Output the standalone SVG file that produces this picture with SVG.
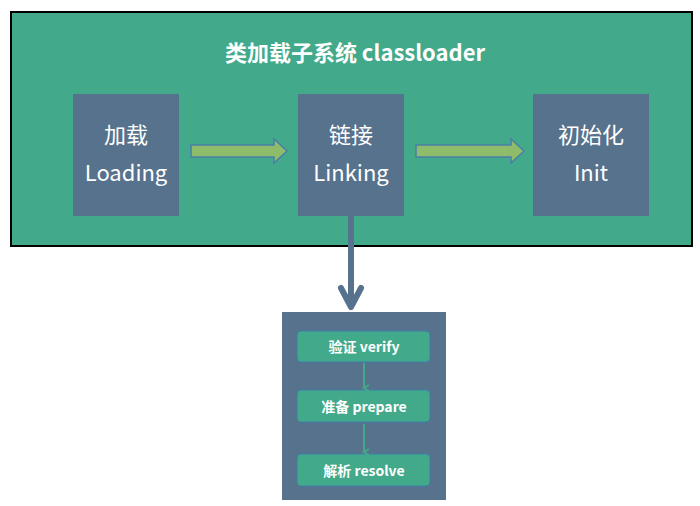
<svg xmlns="http://www.w3.org/2000/svg" width="700" height="506" viewBox="0 0 700 506">
<style>
.node{fill:#56728C}
.t{font-family:"Noto Sans CJK SC","Noto Sans",sans-serif;fill:#fff;text-anchor:middle}
.big{font-size:22px}
.sub{font-size:14px;font-weight:bold}
.step{fill:#42A98A;stroke:#3D7FA8;stroke-width:1}
.blk{fill:#8FBC6A;stroke:#4A7FA8;stroke-width:1.5}
</style>
<defs>
<marker id="sm" markerWidth="8" markerHeight="8" refX="4" refY="6" orient="auto" markerUnits="userSpaceOnUse" viewBox="0 0 8 8">
<path d="M1,1 L4,6 L7,1" fill="none" stroke="#42A98A" stroke-width="2"/>
</marker>
</defs>
<g id="system">
<rect x="11" y="12" width="681" height="234" fill="#42A98A" stroke="#000" stroke-width="2"/>
<text class="t" x="355" y="61" font-size="22" font-weight="bold">类加载子系统 classloader</text>
</g>
<g id="loading"><rect class="node" x="73" y="94" width="106" height="122"/>
<text class="t big" x="126" y="143">加载</text><text class="t big" x="126" y="181" font-size="20">Loading</text></g>
<g id="linking"><rect class="node" x="298" y="94" width="106" height="122"/>
<text class="t big" x="351" y="143">链接</text><text class="t big" x="351" y="181" font-size="20">Linking</text></g>
<g id="init"><rect class="node" x="533" y="94" width="116" height="122"/>
<text class="t big" x="591" y="143">初始化</text><text class="t big" x="591" y="181" font-size="20">Init</text></g>
<g id="phases"><rect class="node" x="282" y="312" width="164" height="188"/>
<g id="verify"><rect class="step" x="297" y="331" width="133" height="31" rx="4"/><text class="t sub" x="364" y="352">验证 verify</text></g>
<g id="prepare"><rect class="step" x="297" y="390" width="133" height="32" rx="4"/><text class="t sub" x="364" y="412">准备 prepare</text></g>
<g id="resolve"><rect class="step" x="297" y="454" width="133" height="32" rx="4"/><text class="t sub" x="364" y="476">解析 resolve</text></g>
</g>
<g id="connectors">
<path class="blk" d="M191,145 L274,145 L274,139 L287,151 L274,163 L274,157 L191,157 Z"/>
<path class="blk" d="M416,145 L511,145 L511,139 L524,151 L511,163 L511,157 L416,157 Z"/>
<line x1="351" y1="216" x2="351" y2="308" stroke="#56728C" stroke-width="6"/>
<path d="M341,288 L351,307 L361,288" fill="none" stroke="#56728C" stroke-width="6" stroke-linecap="round" stroke-linejoin="round"/>
<line x1="364" y1="363" x2="364" y2="388" stroke="#42A98A" stroke-width="2" marker-end="url(#sm)"/>
<line x1="364" y1="424" x2="364" y2="452" stroke="#42A98A" stroke-width="2" marker-end="url(#sm)"/>
</g>
</svg>
